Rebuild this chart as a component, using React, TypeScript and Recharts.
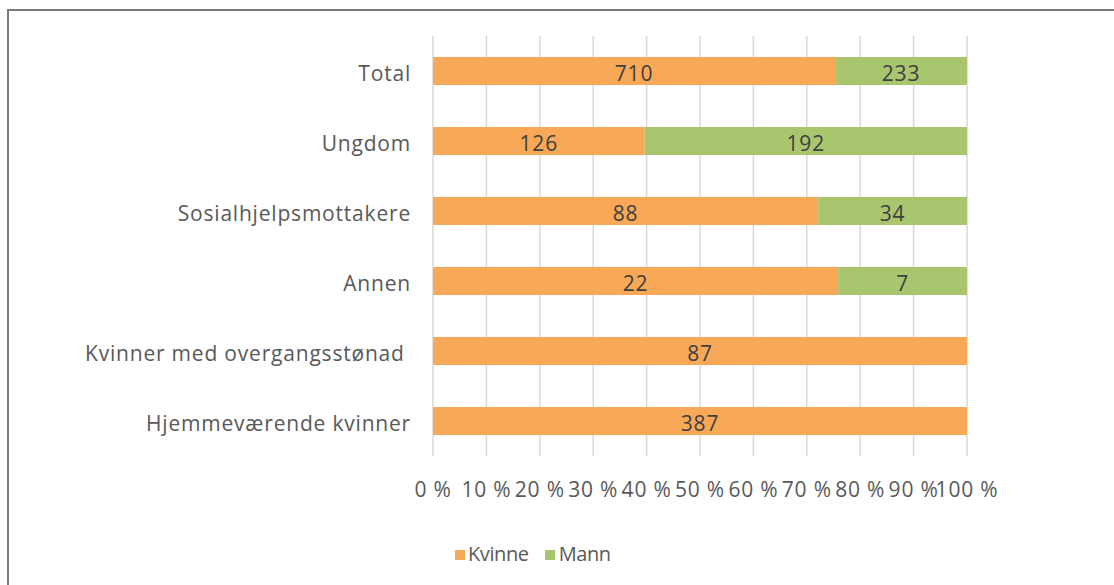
import React from "react";
import {
  BarChart,
  Bar,
  XAxis,
  YAxis,
  CartesianGrid,
  Legend,
  LabelList,
} from "recharts";

const categories = [
  "Total",
  "Ungdom",
  "Sosialhjelpsmottakere",
  "Annen",
  "Kvinner med overgangsstønad\u00a0",
  "Hjemmeværende kvinner",
];
const kvinneValues = [710, 126, 88, 22, 87, 387];
const mannValues = [233, 192, 34, 7, 0, 0];
const xTicks = [0, 0.1, 0.2, 0.3, 0.4, 0.5, 0.6, 0.7, 0.8, 0.9, 1];

const data = categories.map((c, i) => ({
  name: c,
  kvinne: kvinneValues[i],
  mann: mannValues[i],
}));

const FONT = "'Open Sans', sans-serif";
const ORANGE = "#F9A857";
const GREEN = "#A9C66F";
const TEXT = "#595959";
const LABEL = "#404040";
const LS = 0.8;

const renderLegend = () => (
  <div
    style={{
      display: "flex",
      alignItems: "center",
      fontFamily: FONT,
      fontSize: 20,
      letterSpacing: -0.4,
      color: TEXT,
      height: 26,
    }}
  >
    <span style={{ display: "inline-block", width: 10, height: 10, background: ORANGE, marginRight: 3, marginTop: 4 }} />
    <span style={{ marginRight: 16 }}>Kvinne</span>
    <span style={{ display: "inline-block", width: 10, height: 10, background: GREEN, marginRight: 4, marginTop: 4 }} />
    <span>Mann</span>
  </div>
);

export default function App() {
  return (
    <div
      style={{
        position: "absolute",
        left: 0,
        top: 0,
        width: 1114,
        height: 585,
        background: "#fff",
        overflow: "hidden",
      }}
    >
      <div
        style={{
          position: "absolute",
          left: 7,
          top: 9,
          width: 1120,
          height: 600,
          borderTop: "2px solid #7a7a7a",
          borderLeft: "2px solid #7a7a7a",
          boxSizing: "border-box",
        }}
      />
      <BarChart
        width={1114}
        height={585}
        data={data}
        layout="vertical"
        stackOffset="expand"
        margin={{ top: 36, right: 147, left: 8, bottom: 53 }}
        style={{ position: "absolute", left: 0, top: 0 }}
      >
        <CartesianGrid horizontal={false} stroke="#d9d9d9" strokeWidth={1.5} />
        <XAxis
          type="number"
          domain={[0, 1]}
          ticks={xTicks}
          tickFormatter={(v: number) => `${Math.round(v * 100)} %`}
          axisLine={false}
          tickLine={false}
          tickSize={0}
          tickMargin={26}
          height={50}
          interval={0}
          tick={{ fill: TEXT, fontSize: 21, fontFamily: FONT, letterSpacing: LS }}
        />
        <YAxis
          type="category"
          dataKey="name"
          width={425}
          axisLine={false}
          tickLine={false}
          tickSize={0}
          tickMargin={22}
          interval={0}
          tick={{ fill: TEXT, fontSize: 21, fontFamily: FONT, letterSpacing: LS, dy: 3 }}
        />
        <Legend content={renderLegend} wrapperStyle={{ left: 455, width: "auto", bottom: 19 }} />
        <Bar dataKey="kvinne" name="Kvinne" stackId="a" fill={ORANGE} barSize={28} isAnimationActive={false}>
          <LabelList
            dataKey="kvinne"
            position="center"
            fill={LABEL}
            dy={3}
            style={{ fontSize: 21, fontFamily: FONT, letterSpacing: LS }}
            formatter={(v: any) => (v ? v : "")}
          />
        </Bar>
        <Bar dataKey="mann" name="Mann" stackId="a" fill={GREEN} barSize={28} isAnimationActive={false}>
          <LabelList
            dataKey="mann"
            position="center"
            fill={LABEL}
            dy={3}
            style={{ fontSize: 21, fontFamily: FONT, letterSpacing: LS }}
            formatter={(v: any) => (v ? v : "")}
          />
        </Bar>
      </BarChart>
    </div>
  );
}
